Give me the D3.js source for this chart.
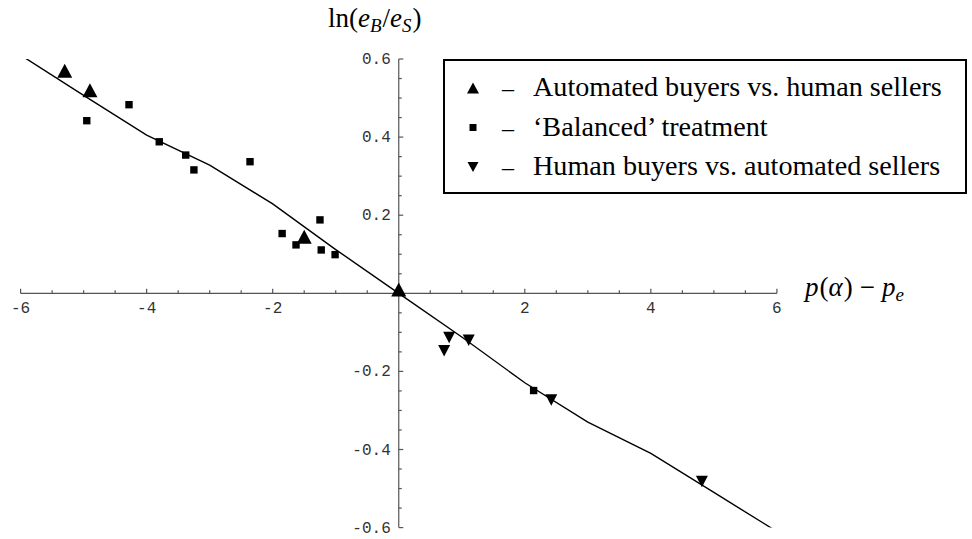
<!DOCTYPE html>
<html>
<head>
<meta charset="utf-8">
<script src="https://cdn.jsdelivr.net/npm/d3@7"></script>
<style>
  body { margin: 0; background: #fff; }
  svg { display: block; }
</style>
</head>
<body>
<svg id="chart" width="972" height="539"></svg>
<script>
// data
const upX = [-5.3, -4.9, -1.5, 0.0];
const upY = [0.57, 0.52, 0.145, 0.01];
const sqX = [-4.95, -4.28, -3.8, -3.38, -3.25, -2.36, -1.85, -1.63, -1.25, -1.23, -1.01, 2.14];
const sqY = [0.442, 0.483, 0.388, 0.354, 0.316, 0.337, 0.153, 0.124, 0.188, 0.111, 0.099, -0.249];
const downX = [0.80, 0.72, 1.11, 2.42, 4.81];
const downY = [-0.113, -0.147, -0.12, -0.273, -0.482];
const lineX = [-6, -5, -4, -3, -2, -1, 0, 1, 2, 3, 4, 5, 6];
const lineY = [0.61, 0.507, 0.405, 0.328, 0.229, 0.112, 0, -0.112, -0.229, -0.33, -0.41, -0.51, -0.61];
const xTicks = [-6, -4, -2, 2, 4, 6];
const yTicks = [-0.6, -0.4, -0.2, 0.2, 0.4, 0.6];
const legendLabels = ["Automated buyers vs. human sellers", "\u2018Balanced\u2019 treatment", "Human buyers vs. automated sellers"];

const svg = d3.select("#chart");
const x = d3.scaleLinear().domain([-6, 6]).range([20.6, 776.9]);
const y = d3.scaleLinear().domain([-0.6, 0.6]).range([527.6, 59]);
const axisColor = "#555";
const monoFont = "'Liberation Mono', 'DejaVu Sans Mono', monospace";
const serifFont = "'Liberation Serif', 'DejaVu Serif', serif";

// axes drawn at the origin
const x0 = x(0), y0 = y(0);
const xMinor = d3.range(-6, 6.01, 0.5);
const yMinor = d3.range(-0.6, 0.601, 0.05);

const ax = svg.append("g").attr("stroke", axisColor).attr("stroke-width", 1.2);
ax.append("line").attr("x1", x(-6)).attr("x2", x(6)).attr("y1", y0).attr("y2", y0);
ax.append("line").attr("x1", x0).attr("x2", x0).attr("y1", y(0.6)).attr("y2", y(-0.6));

ax.selectAll(".xt").data(xMinor).join("line")
  .attr("x1", d => x(d)).attr("x2", d => x(d))
  .attr("y1", y0)
  .attr("y2", d => Math.abs(d % 2) < 1e-6 ? y0 - 4.5 : y0 - 3);
ax.selectAll(".yt").data(yMinor).join("line")
  .attr("y1", d => y(d)).attr("y2", d => y(d))
  .attr("x1", x0)
  .attr("x2", d => Math.abs(Math.round(d * 100) % 20) < 1e-6 ? x0 + 4.5 : x0 + 3);

svg.append("g").selectAll("text").data(xTicks).join("text")
  .attr("x", d => x(d)).attr("y", y0 + 20)
  .attr("text-anchor", "middle")
  .attr("font-family", monoFont).attr("font-size", 16).attr("fill", "#333")
  .text(d => d < 0 ? "-" + Math.abs(d) : d);

svg.append("g").selectAll("text").data(yTicks).join("text")
  .attr("x", x0 - 8).attr("y", d => y(d) + 5)
  .attr("text-anchor", "end")
  .attr("font-family", monoFont).attr("font-size", 16).attr("fill", "#333")
  .text(d => d3.format(".1f")(d).replace("−", "-"));

// fitted curve, clipped to the plot range
svg.append("clipPath").attr("id", "clip").append("rect")
  .attr("x", x(-6)).attr("y", y(0.6)).attr("width", x(6) - x(-6)).attr("height", y(-0.6) - y(0.6));
svg.append("path")
  .datum(lineX.map((d, i) => [d, lineY[i]]))
  .attr("clip-path", "url(#clip)")
  .attr("fill", "none").attr("stroke", "#000").attr("stroke-width", 1.4)
  .attr("d", d3.line().x(d => x(d[0])).y(d => y(d[1])));

function tri(cx, cy, w, h, up) {
  const s = up ? 1 : -1;
  return `M${cx},${cy - s * h / 2}L${cx + w / 2},${cy + s * h / 2}L${cx - w / 2},${cy + s * h / 2}Z`;
}

svg.append("g").selectAll("path").data(sqX).join("path")
  .attr("d", (d, i) => { const cx = x(d), cy = y(sqY[i]); return `M${cx - 3.7},${cy - 3.7}h7.4v7.4h-7.4Z`; })
  .attr("fill", "#000");
svg.append("g").selectAll("path").data(upX).join("path")
  .attr("d", (d, i) => tri(x(d), y(upY[i]), 15, 14, true))
  .attr("fill", "#000");
svg.append("g").selectAll("path").data(downX).join("path")
  .attr("d", (d, i) => tri(x(d), y(downY[i]), 12, 11.5, false))
  .attr("fill", "#000");

// axis titles (math set in a serif, with gaps like TeX spacing)
const yl = svg.append("text").attr("x", 328).attr("y", 27)
  .attr("font-family", serifFont).attr("font-size", 27);
yl.append("tspan").text("ln(");
yl.append("tspan").attr("font-style", "italic").text("e");
yl.append("tspan").attr("font-style", "italic").attr("font-size", 19).attr("dy", 5).text("B");
yl.append("tspan").attr("dy", -5).attr("dx", 1).text("/");
yl.append("tspan").attr("font-style", "italic").text("e");
yl.append("tspan").attr("font-style", "italic").attr("font-size", 19).attr("dy", 5).text("S");
yl.append("tspan").attr("dy", -5).attr("dx", 1).text(")");

const xl = svg.append("text").attr("x", 805).attr("y", 296)
  .attr("font-family", serifFont).attr("font-size", 27);
xl.append("tspan").attr("font-style", "italic").text("p");
xl.append("tspan").attr("dx", 1).text("(");
xl.append("tspan").attr("font-style", "italic").text("\u03b1");
xl.append("tspan").attr("dx", 1).text(")");
xl.append("tspan").attr("dx", 7).text("\u2212");
xl.append("tspan").attr("dx", 7).attr("font-style", "italic").text("p");
xl.append("tspan").attr("font-style", "italic").attr("font-size", 19).attr("dy", 5).text("e");

// legend
const lg = svg.append("g");
lg.append("rect").attr("x", 444).attr("y", 60).attr("width", 522).attr("height", 133)
  .attr("fill", "#fff").attr("stroke", "#000").attr("stroke-width", 2);
const rowY = [88, 127.5, 167];
lg.append("path").attr("d", tri(473, rowY[0], 12, 11, true)).attr("fill", "#000");
lg.append("path").attr("d", `M${473 - 3.5},${rowY[1] - 3.5}h7v7h-7Z`).attr("fill", "#000");
lg.append("path").attr("d", tri(473, rowY[2], 11, 10, false)).attr("fill", "#000");
lg.selectAll(".dash").data(rowY).join("text")
  .attr("x", 508).attr("y", d => d + 8).attr("text-anchor", "middle")
  .attr("font-family", serifFont).attr("font-size", 24).text("\u2013");
const lt = lg.selectAll(".lab").data(legendLabels).join("text")
  .attr("x", 533).attr("y", (d, i) => rowY[i] + 8)
  .attr("font-family", serifFont).attr("font-size", 24).text(d => d);
const w0 = lt.node().getComputedTextLength();
lt.attr("font-size", 24 * 409 / w0);
</script>
</body>
</html>
